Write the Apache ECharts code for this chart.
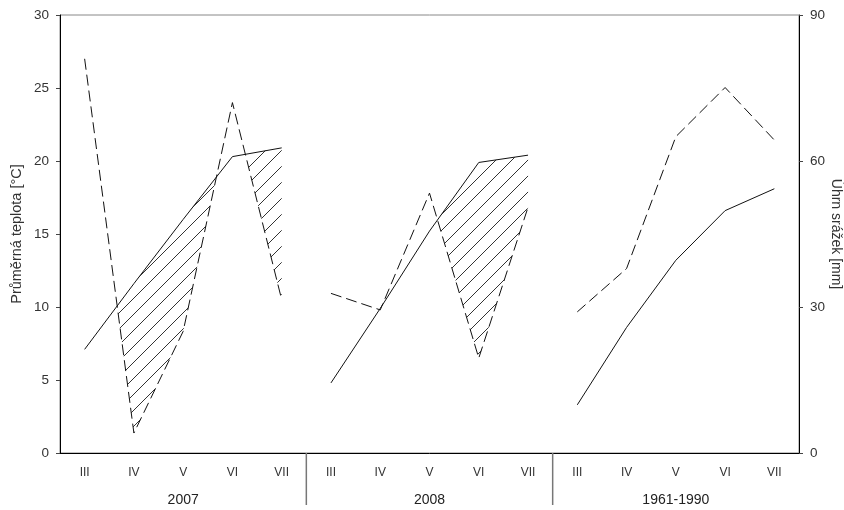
<!DOCTYPE html>
<html>
<head>
<meta charset="utf-8">
<script src="https://cdn.jsdelivr.net/npm/echarts@6/dist/echarts.min.js"></script>
<style>
  html, body { margin: 0; padding: 0; background: #fff; }
  #chart { width: 844px; height: 510px; }
</style>
</head>
<body>
<div id="chart"></div>
<script>
// months shown under every period, and the periods themselves
const months = ['III', 'IV', 'V', 'VI', 'VII'];
const periods = ['2007', '2008', '1961-1990'];

// mean temperature [°C]
const temp2007 = [7.1, 11.6, 16.0, 20.3, 20.9];
const temp2008 = [4.8, 9.9, 15.2, 19.9, 20.4];
const temp6190 = [3.3, 8.6, 13.2, 16.6, 18.1];

// precipitation [mm]
const rain2007 = [81, 4.1, 25, 72, 31.5];
const rain2008 = [32.8, 29.4, 53.4, 19.5, 50.5];
const rain6190 = [29, 37.9, 65, 75.1, 64.3];

const temps = [temp2007, temp2008, temp6190];
const rains = [rain2007, rain2008, rain6190];

const font = 'Arial, "Liberation Sans", sans-serif';
const categories = periods.flatMap(() => months);

// put one period's values at its place on the 15-slot axis
function spread(values, g) {
  const out = new Array(categories.length).fill(null);
  values.forEach((v, i) => { out[g * months.length + i] = v; });
  return out;
}

// stripes for the dry spells (temperature above precipitation / 3)
const hatch = document.createElement('canvas');
hatch.width = 16;
hatch.height = 16;
const hc = hatch.getContext('2d');
hc.strokeStyle = '#333';
hc.lineWidth = 1;
hc.beginPath();
hc.moveTo(-2, 18);
hc.lineTo(18, -2);
hc.stroke();

// polygons between the temperature and precipitation curves where it is dry
function dryRegions(x0, t, q) {
  const regions = [];
  let cur = null;
  for (let i = 0; i < t.length; i++) {
    const d = t[i] - q[i];
    if (d > 0) {
      if (!cur) cur = { up: [], lo: [] };
      cur.up.push([x0 + i, t[i]]);
      cur.lo.push([x0 + i, q[i]]);
    }
    if (i < t.length - 1) {
      const d1 = t[i + 1] - q[i + 1];
      if ((d > 0) !== (d1 > 0)) {
        const k = d / (d - d1);
        const p = [x0 + i + k, t[i] + k * (t[i + 1] - t[i])];
        if (d > 0) {
          cur.up.push(p);
          cur.lo.push(p);
          regions.push(cur);
          cur = null;
        } else {
          cur = { up: [p], lo: [p] };
        }
      }
    }
  }
  if (cur) regions.push(cur);
  return regions.map(r => r.up.concat(r.lo.slice().reverse()));
}

const series = [];

series.push({
  type: 'custom',
  xAxisIndex: 2,
  yAxisIndex: 0,
  z: 1,
  silent: true,
  data: periods.map((p, g) => [g]),
  renderItem: function (params, api) {
    const g = api.value(0);
    const q = rains[g].map(v => v / 3);
    const polys = dryRegions(g * months.length, temps[g], q);
    return {
      type: 'group',
      children: polys.map(pts => ({
        type: 'polygon',
        shape: { points: pts.map(p => api.coord(p)) },
        style: { fill: { image: hatch, repeat: 'repeat' }, lineWidth: 0 }
      }))
    };
  }
});

// separators between periods, hanging below the axis
series.push({
  type: 'custom',
  xAxisIndex: 2,
  yAxisIndex: 0,
  silent: true,
  clip: false,
  data: [[months.length - 0.5], [2 * months.length - 0.5]],
  renderItem: function (params, api) {
    const p = api.coord([api.value(0), 0]);
    return {
      type: 'line',
      shape: { x1: p[0], y1: p[1], x2: p[0], y2: p[1] + 52 },
      style: { stroke: '#777', lineWidth: 1.5 }
    };
  }
});

periods.forEach((p, g) => {
  series.push({
    name: 'teplota ' + p,
    type: 'line',
    xAxisIndex: 0,
    yAxisIndex: 0,
    data: spread(temps[g], g),
    symbol: 'none',
    z: 3,
    lineStyle: { color: '#111', width: 1 }
  });
  series.push({
    name: 'srážky ' + p,
    type: 'line',
    xAxisIndex: 0,
    yAxisIndex: 1,
    data: spread(rains[g], g),
    symbol: 'none',
    z: 3,
    lineStyle: { color: '#111', width: 1, type: [11, 5] }
  });
});

const chart = echarts.init(document.getElementById('chart'));
chart.setOption({
  animation: false,
  backgroundColor: '#fff',
  textStyle: { fontFamily: font },
  grid: {
    left: 60, right: 45, top: 15, bottom: 57,
    containLabel: false,
    outerBoundsMode: 'none',
    show: true, borderColor: '#888', borderWidth: 1
  },
  xAxis: [
    {
      type: 'category',
      data: categories,
      position: 'bottom',
      boundaryGap: true,
      axisLine: { onZero: false, lineStyle: { color: '#000', width: 1 } },
      axisTick: { alignWithLabel: true, length: 3, lineStyle: { color: '#444' } },
      axisLabel: { interval: 0, color: '#333', fontSize: 12, margin: 14, fontFamily: font },
      splitLine: { show: false }
    },
    {
      type: 'category',
      data: periods,
      position: 'bottom',
      axisLine: { show: false, onZero: false },
      axisTick: { show: false },
      axisLabel: { color: '#222', fontSize: 14, margin: 40, fontFamily: font },
      splitLine: { show: false }
    },
    {
      type: 'value',
      min: -0.5,
      max: categories.length - 0.5,
      position: 'top',
      show: false,
      axisLine: { onZero: false }
    }
  ],
  yAxis: [
    {
      type: 'value',
      min: 0, max: 30, interval: 5,
      position: 'left',
      name: 'Průměrná teplota [°C]',
      nameLocation: 'middle',
      nameMoveOverlap: false,
      nameGap: 35.5,
      nameTextStyle: { color: '#333', fontSize: 14.5, fontFamily: font },
      axisLine: { show: true, onZero: false, lineStyle: { color: '#000', width: 1 } },
      axisTick: { show: true, length: 4, lineStyle: { color: '#444' } },
      axisLabel: { color: '#333', fontSize: 13.5, margin: 11, fontFamily: font },
      splitLine: { show: false }
    },
    {
      type: 'value',
      min: 0, max: 90, interval: 30,
      position: 'right',
      name: 'Úhrn srážek [mm]',
      nameLocation: 'middle',
      nameMoveOverlap: false,
      nameRotate: -90,
      nameGap: 30,
      nameTextStyle: { color: '#333', fontSize: 14, fontFamily: font },
      axisLine: { show: true, onZero: false, lineStyle: { color: '#000', width: 1 } },
      axisTick: { show: true, length: 4, lineStyle: { color: '#444' } },
      axisLabel: { color: '#333', fontSize: 13.5, margin: 11, fontFamily: font },
      splitLine: { show: false }
    }
  ],
  series: series
});
</script>
</body>
</html>
